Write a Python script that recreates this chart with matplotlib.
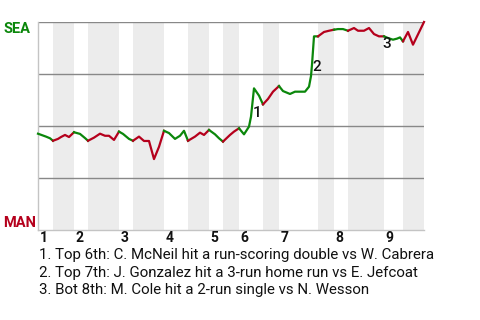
import matplotlib.pyplot as plt
from matplotlib.transforms import blended_transform_factory

plt.rcParams['font.family'] = ['Roboto', 'DejaVu Sans']

# game progress (plays, scaled) and Seattle win probability in %
progress = [0, 8, 12, 15, 20, 23, 27, 31, 36, 42, 47, 50, 56, 62, 67, 71, 76, 81,
            85, 91, 95, 101, 106, 111, 116, 121, 126, 131, 137, 142, 146, 150,
            157, 162, 166, 171, 177, 181, 185, 192, 196, 201, 206, 211, 213, 216,
            221, 225, 230, 235, 241, 245, 252, 257, 267, 271, 273, 274, 276, 280,
            286, 291, 296, 300, 305, 310, 316, 320, 326, 331, 336, 341, 346, 350,
            355, 359, 362, 365, 370, 375, 386]
sea_wp = [46.3, 44.9, 44.1, 42.9, 43.8, 44.7, 45.7, 44.7, 47.0, 46.2, 44.2, 42.9,
          44.4, 46.3, 45.3, 45.3, 43.3, 47.3, 46.2, 43.8, 42.9, 44.9, 42.8, 42.8,
          34.1, 40.0, 47.7, 46.6, 43.8, 45.3, 47.7, 42.9, 44.9, 46.8, 45.7, 48.1,
          46.0, 44.1, 42.5, 45.7, 47.3, 48.9, 46.0, 49.7, 54.5, 68.1, 64.6, 60.4,
          63.0, 66.5, 69.2, 66.8, 65.4, 66.5, 66.5, 68.9, 74.0, 79.5, 93.1, 93.1,
          95.2, 95.8, 96.3, 96.6, 96.6, 95.8, 97.1, 95.8, 95.8, 97.1, 94.2, 93.1,
          93.1, 92.3, 91.5, 92.0, 92.6, 90.7, 95.2, 89.1, 100.0]

# start of each half inning (top, bottom, top, ...) and end of game
half_edges = [0, 15, 36, 50, 81, 95, 126, 150, 171, 185, 201, 225, 241, 280,
              296, 310, 346, 365, 386]
innings = ['1', '2', '3', '4', '5', '6', '7', '8', '9']

notes = ['1. Top 6th: C. McNeil hit a run-scoring double vs W. Cabrera',
         '2. Top 7th: J. Gonzalez hit a 3-run home run vs E. Jefcoat',
         '3. Bot 8th: M. Cole hit a 2-run single vs N. Wesson']
note_idx = [45, 58, 72]
note_off = [(2.2, -18), (2.2, -22), (2.2, -5.5)]

green = '#0b870b'
red = '#b5001c'

fig = plt.figure(figsize=(4.8, 3.2), dpi=100)
ax = fig.add_axes([38 / 480, 90 / 320, 386 / 480, 208 / 320])
ax.set_xlim(half_edges[0], half_edges[-1])
ax.set_ylim(0, 100)

# shade the bottom halves
for i in range(1, len(half_edges) - 1, 2):
    ax.axvspan(half_edges[i], half_edges[i + 1], color='#ececec', lw=0, zorder=0)

for y in [25, 50, 75, 100]:
    ax.axhline(y, color='#888888', lw=1, zorder=1)

# line coloured by batting team
for i in range(len(half_edges) - 1):
    lo, hi = half_edges[i], half_edges[i + 1]
    xs = [x for x in progress if lo <= x <= hi]
    ys = [w for x, w in zip(progress, sea_wp) if lo <= x <= hi]
    ax.plot(xs, ys, color=green if i % 2 == 0 else red, lw=1.6,
            solid_joinstyle='round', zorder=3, clip_on=False)

for k, (idx, off) in enumerate(zip(note_idx, note_off)):
    ax.annotate(str(k + 1), (progress[idx], sea_wp[idx]), xytext=off,
                textcoords='offset points', ha='center', va='center',
                fontsize=11, fontweight='medium', color='#111111', zorder=4)

for s in ['top', 'right']:
    ax.spines[s].set_visible(False)
for s in ['left', 'bottom']:
    ax.spines[s].set_color('#c4c4c4')
    ax.spines[s].set_linewidth(1)
ax.set_xticks([])
ax.set_yticks([])

trans = blended_transform_factory(ax.transData, ax.transAxes)
for lab, x in zip(innings, half_edges[0::2]):
    ax.text(x + 1.5, -0.005, lab, transform=trans, ha='left', va='top',
            fontsize=10, fontweight='bold', color='#111111')

fig.text(3 / 480, 1 - 22 / 320, 'SEA', ha='left', va='top', fontsize=10.5,
         fontweight='bold', color=green)
fig.text(3 / 480, 1 - 227 / 320, 'MAN', ha='left', va='baseline', fontsize=10.5,
         fontweight='bold', color=red)

for j, t in enumerate(notes):
    fig.text(39 / 480, 1 - (259 + 17.5 * j) / 320, t, ha='left', va='baseline',
             fontsize=10.8, color='#111111')

fig.savefig('out.png', dpi=100)
